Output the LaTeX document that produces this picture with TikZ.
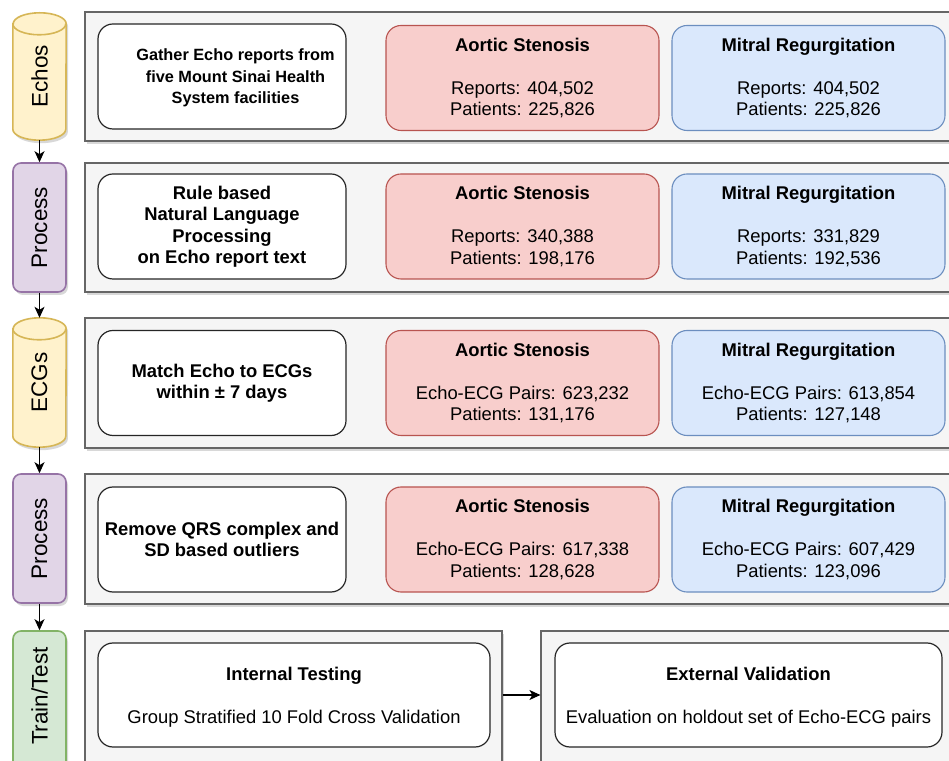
\documentclass[tikz,border=0pt]{standalone}
\usepackage{fontspec}
\setmainfont{Liberation Sans}
\usetikzlibrary{shadows,arrows.meta}
\definecolor{panelfill}{HTML}{F5F5F5}
\definecolor{panelline}{HTML}{666666}
\definecolor{yelfill}{HTML}{FFF2CC}
\definecolor{yelline}{HTML}{D6B656}
\definecolor{purfill}{HTML}{E1D5E7}
\definecolor{purline}{HTML}{9673A6}
\definecolor{grnfill}{HTML}{D5E8D4}
\definecolor{grnline}{HTML}{82B366}
\definecolor{redfill}{HTML}{F8CECC}
\definecolor{redline}{HTML}{B85450}
\definecolor{blufill}{HTML}{DAE8FC}
\definecolor{bluline}{HTML}{6C8EBF}
\begin{document}
\begin{tikzpicture}[x=1pt,y=1pt,
  shad/.style={drop shadow={opacity=0.25,shadow xshift=2pt,shadow yshift=-3pt,fill=black!60}},
  panel/.style={draw=panelline,fill=panelfill,line width=1.2pt,inner sep=0pt,shad},
  boxtxt/.style={font=\fontsize{18.4}{21.5}\selectfont,align=center,inner sep=0pt},
  whitebox/.style={draw=black!85,fill=white,rounded corners=15pt,line width=1.2pt,boxtxt,font=\fontsize{18.4}{21.5}\selectfont\bfseries,minimum width=248pt,minimum height=105pt},
  redbox/.style={draw=redline,fill=redfill,rounded corners=15pt,line width=1.1pt,boxtxt,minimum width=273pt,minimum height=105pt},
  blubox/.style={draw=bluline,fill=blufill,rounded corners=15pt,line width=1.1pt,boxtxt,minimum width=273pt,minimum height=105pt},
  slot/.style={inner sep=0pt,minimum width=53pt,minimum height=#1},
  procbox/.style={draw=purline,fill=purfill,rounded corners=8pt,line width=1.6pt,inner sep=0pt,minimum width=53pt,minimum height=129pt,shad},
  trainbox/.style={draw=grnline,fill=grnfill,rounded corners=8pt,line width=1.6pt,inner sep=0pt,minimum width=53pt,minimum height=144pt,shad},
  cyl/.style={draw=yelline,fill=yelfill,line width=1.6pt,shad},
  rotlabel/.style={rotate=90,font=\fontsize{22.5}{27}\selectfont,inner sep=0pt},
  arr/.style={-{Stealth[length=11pt,width=10pt,inset=3pt]},line width=1.1pt,black}
]
\useasboundingbox (0,0) rectangle (949,760);
\clip (0,0) rectangle (949,760);
\fill[white] (0,0) rectangle (949,760);

% panels
\node[panel,minimum width=890pt,minimum height=129pt] (p1) at (530,683.5) {};
\node[panel,minimum width=890pt,minimum height=129pt] (p2) at (530,532.5) {};
\node[panel,minimum width=890pt,minimum height=130pt] (p3) at (530,377) {};
\node[panel,minimum width=890pt,minimum height=130pt] (p4) at (530,221) {};
\node[panel,minimum width=417pt,minimum height=144pt] (pl5) at (293.5,57) {};
\node[panel,minimum width=430pt,minimum height=144pt] (pr5) at (756,57) {};

% row 1
\node[whitebox] (w1) at (222,683.5) {};
\node[boxtxt,font=\fontsize{16.3}{21.5}\selectfont\bfseries] (t1) at (235.5,682) {Gather Echo reports from\\five Mount Sinai Health\\System facilities};
\node[redbox] (r1) at (522.5,682) {\textbf{Aortic Stenosis}\\[21.5pt]Reports: 404,502\\Patients: 225,826};
\node[blubox] (b1) at (808.5,682) {\textbf{Mitral Regurgitation}\\[21.5pt]Reports: 404,502\\Patients: 225,826};

% row 2
\node[whitebox] (w2) at (222,533.5) {Rule based\\Natural Language\\Processing\\on Echo report text};
\node[redbox] (r2) at (522.5,533.5) {\textbf{Aortic Stenosis}\\[21.5pt]Reports: 340,388\\Patients: 198,176};
\node[blubox] (b2) at (808.5,533.5) {\textbf{Mitral Regurgitation}\\[21.5pt]Reports: 331,829\\Patients: 192,536};

% row 3
\node[whitebox] (w3) at (222,377) {Match Echo to ECGs\\within ± 7 days};
\node[redbox] (r3) at (522.5,377) {\textbf{Aortic Stenosis}\\[21.5pt]Echo-ECG Pairs: 623,232\\Patients: 131,176};
\node[blubox] (b3) at (808.5,377) {\textbf{Mitral Regurgitation}\\[21.5pt]Echo-ECG Pairs: 613,854\\Patients: 127,148};

% row 4
\node[whitebox] (w4) at (222,220.5) {Remove QRS complex and\\SD based outliers};
\node[redbox] (r4) at (522.5,220.5) {\textbf{Aortic Stenosis}\\[21.5pt]Echo-ECG Pairs: 617,338\\Patients: 128,628};
\node[blubox] (b4) at (808.5,220.5) {\textbf{Mitral Regurgitation}\\[21.5pt]Echo-ECG Pairs: 607,429\\Patients: 123,096};

% row 5
\node[whitebox,minimum width=392pt,minimum height=104pt] (w5l) at (294,65) {};
\node[boxtxt] (t5l) at (294,62.5) {\textbf{Internal Testing}\\[21.5pt]Group Stratified 10 Fold Cross Validation};
\node[whitebox,minimum width=387pt,minimum height=104pt] (w5r) at (748.5,65) {};
\node[boxtxt] (t5r) at (748.5,62.5) {\textbf{External Validation}\\[21.5pt]Evaluation on holdout set of Echo-ECG pairs};
\draw[arr] (pl5.east |- w5l.center) -- (pr5.west |- w5l.center);

% left column
\node[slot=127pt] (echos) at (39.5,683.5) {};
\path[cyl] ([yshift=-11pt]echos.north west) -- ([yshift=11pt]echos.south west)
  arc[start angle=180,end angle=360,x radius=26.5pt,y radius=11pt]
  -- ([yshift=-11pt]echos.north east)
  arc[start angle=0,end angle=180,x radius=26.5pt,y radius=11pt] -- cycle;
\draw[yelline,line width=1.6pt] ([yshift=-11pt]echos.north west)
  arc[start angle=180,end angle=360,x radius=26.5pt,y radius=11pt];
\node[rotlabel] (lechos) at (echos.center) {Echos};

\node[procbox] (proc1) at (39.5,532.5) {};
\node[rotlabel] (lproc1) at (proc1.center) {Process};

\node[slot=129pt] (ecgs) at (39.5,377.5) {};
\path[cyl] ([yshift=-11pt]ecgs.north west) -- ([yshift=11pt]ecgs.south west)
  arc[start angle=180,end angle=360,x radius=26.5pt,y radius=11pt]
  -- ([yshift=-11pt]ecgs.north east)
  arc[start angle=0,end angle=180,x radius=26.5pt,y radius=11pt] -- cycle;
\draw[yelline,line width=1.6pt] ([yshift=-11pt]ecgs.north west)
  arc[start angle=180,end angle=360,x radius=26.5pt,y radius=11pt];
\node[rotlabel] (lecgs) at (ecgs.center) {ECGs};

\node[procbox] (proc2) at (39.5,221.5) {};
\node[rotlabel] (lproc2) at (proc2.center) {Process};

\node[trainbox] (train) at (39.5,57) {};
\node[rotlabel] (ltrain) at (39.5,64) {Train/Test};

\draw[arr] (echos.south) -- (proc1.north);
\draw[arr] (proc1.south) -- (ecgs.north);
\draw[arr] (ecgs.south) -- (proc2.north);
\draw[arr] (proc2.south) -- (train.north);
\end{tikzpicture}
\end{document}
